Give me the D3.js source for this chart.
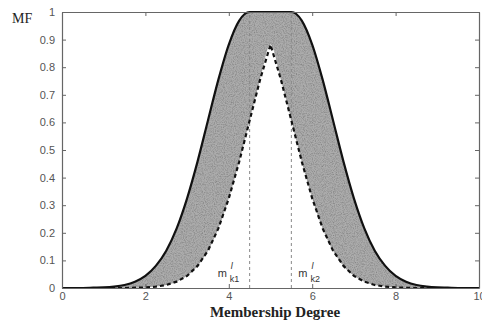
<!DOCTYPE html>
<html>
<head>
<meta charset="utf-8">
<script src="https://cdn.jsdelivr.net/npm/d3@7"></script>
<style>
  body { margin: 0; background: #fff; }
  svg { display: block; }
</style>
</head>
<body>
<div id="chart"></div>
<script>
var W = 482, H = 325;
var plotLeft = 62, plotRight = 479, plotTop = 12, plotBottom = 288;

// sample positions along the membership degree axis
var xs = [0, 0.25, 0.5, 0.75, 1, 1.25, 1.5, 1.75, 2, 2.25, 2.5, 2.75, 3, 3.25, 3.5, 3.75,
          4, 4.25, 4.5, 4.75, 5, 5.25, 5.5, 5.75, 6, 6.25, 6.5, 6.75, 7, 7.25, 7.5, 7.75,
          8, 8.25, 8.5, 8.75, 9, 9.25, 9.5, 9.75, 10];
// upper MF (solid line)
var upperMF = [0, 0, 0, 0.001, 0.002, 0.005, 0.011, 0.023, 0.044, 0.08, 0.135, 0.216, 0.325, 0.458, 0.607, 0.755,
               0.882, 0.969, 1, 1, 1, 1, 1, 0.969, 0.882, 0.755, 0.607, 0.458, 0.325, 0.216, 0.135, 0.08,
               0.044, 0.023, 0.011, 0.005, 0.002, 0.001, 0, 0, 0];
// lower MF (dashed line)
var lowerMF = [0, 0, 0, 0, 0, 0, 0, 0.001, 0.002, 0.005, 0.011, 0.023, 0.044, 0.08, 0.135, 0.216,
               0.325, 0.458, 0.607, 0.755, 0.882, 0.755, 0.607, 0.458, 0.325, 0.216, 0.135, 0.08, 0.044, 0.023, 0.011, 0.005,
               0.002, 0.001, 0, 0, 0, 0, 0, 0, 0];
var xTicks = [0, 2, 4, 6, 8, 10];
var yTicks = [0, 0.1, 0.2, 0.3, 0.4, 0.5, 0.6, 0.7, 0.8, 0.9, 1];
var meanLines = [4.5, 5.5];
var meanLabels = ["k1", "k2"];

var data = xs.map(function(x, i) { return {x: x, up: upperMF[i], lo: lowerMF[i]}; });

var svg = d3.select("#chart").append("svg")
    .attr("width", W).attr("height", H);

// speckled grey like the scanned original
var defs = svg.append("defs");
var f = defs.append("filter").attr("id", "speckle")
    .attr("x", 0).attr("y", 0).attr("width", 1).attr("height", 1);
f.append("feTurbulence").attr("type", "fractalNoise").attr("baseFrequency", 0.9)
    .attr("numOctaves", 2).attr("seed", 3).attr("result", "noise");
f.append("feColorMatrix").attr("in", "noise").attr("type", "matrix")
    .attr("values", "0 0 0 0 0  0 0 0 0 0  0 0 0 0 0  0 0 0 -0.9 0.55").attr("result", "dots");
f.append("feComposite").attr("in", "dots").attr("in2", "SourceGraphic").attr("operator", "in").attr("result", "dotsIn");
f.append("feMerge").selectAll("feMergeNode").data(["SourceGraphic", "dotsIn"]).enter()
    .append("feMergeNode").attr("in", function(d) { return d; });

var x = d3.scaleLinear().domain([0, 10]).range([plotLeft, plotRight]);
var y = d3.scaleLinear().domain([0, 1]).range([plotBottom, plotTop]);

// shaded footprint of uncertainty
svg.append("path")
    .datum(data)
    .attr("fill", "#acacac")
    .attr("filter", "url(#speckle)")
    .attr("d", d3.area()
        .x(function(d) { return x(d.x); })
        .y0(function(d) { return y(d.lo); })
        .y1(function(d) { return y(d.up); })
        .curve(d3.curveMonotoneX));

// vertical dashed lines at the two means
svg.selectAll(".mean")
    .data(meanLines)
    .enter().append("line")
    .attr("x1", function(d) { return x(d); })
    .attr("x2", function(d) { return x(d); })
    .attr("y1", y(0)).attr("y2", y(1))
    .attr("stroke", "#888")
    .attr("stroke-width", 1)
    .attr("stroke-dasharray", "3,3");

// upper MF
svg.append("path")
    .datum(data)
    .attr("fill", "none")
    .attr("stroke", "#111")
    .attr("stroke-width", 2.2)
    .attr("d", d3.line()
        .x(function(d) { return x(d.x); })
        .y(function(d) { return y(d.up); })
        .curve(d3.curveMonotoneX));

// lower MF
svg.append("path")
    .datum(data)
    .attr("fill", "none")
    .attr("stroke", "#111")
    .attr("stroke-width", 2.2)
    .attr("stroke-dasharray", "4,3")
    .attr("d", d3.line()
        .x(function(d) { return x(d.x); })
        .y(function(d) { return y(d.lo); }));

// box + inward ticks
var axisColor = "#666";
svg.append("g")
    .attr("transform", "translate(0," + plotBottom + ")")
    .call(d3.axisBottom(x).tickValues(xTicks).tickSizeInner(-4).tickSizeOuter(0).tickPadding(4)
        .tickFormat(d3.format("d")));
svg.append("g")
    .attr("transform", "translate(0," + plotTop + ")")
    .call(d3.axisTop(x).tickValues(xTicks).tickSizeInner(-4).tickSizeOuter(0).tickFormat(""));
svg.append("g")
    .attr("transform", "translate(" + plotLeft + ",0)")
    .call(d3.axisLeft(y).tickValues(yTicks).tickSizeInner(-4).tickSizeOuter(0).tickPadding(7)
        .tickFormat(function(d) { return d === 0 || d === 1 ? d3.format("d")(d) : d3.format(".1f")(d); }));
svg.append("g")
    .attr("transform", "translate(" + plotRight + ",0)")
    .call(d3.axisRight(y).tickValues(yTicks).tickSizeInner(-4).tickSizeOuter(0).tickFormat(""));

svg.selectAll(".domain").attr("stroke", axisColor).attr("stroke-width", 1.2);
svg.selectAll(".tick line").attr("stroke", axisColor);
svg.selectAll(".tick text")
    .attr("fill", "#555")
    .style("font-family", "Liberation Sans, Arial, sans-serif")
    .style("font-size", "11px");

// mean labels: left one sits left of its line, right one right of its line
var labelX = [x(meanLines[0]) - 32, x(meanLines[1]) + 7];
meanLabels.forEach(function(k, i) {
    var t = svg.append("text")
        .attr("x", labelX[i])
        .attr("y", plotBottom - 11)
        .attr("fill", "#333")
        .style("font-family", "Liberation Sans, Arial, sans-serif")
        .style("font-size", "11px");
    t.append("tspan").text("m");
    t.append("tspan").attr("dx", 4).attr("dy", -8).style("font-size", "9px").style("font-style", "italic").text("l");
    t.append("tspan").attr("dx", -3).attr("dy", 13).style("font-size", "9px").text(k);
});

// axis titles
svg.append("text")
    .attr("x", 12).attr("y", 23)
    .style("font-family", "Liberation Serif, Times New Roman, serif")
    .style("font-size", "14px")
    .attr("fill", "#222")
    .text("MF");

svg.append("text")
    .attr("x", 275).attr("y", 317)
    .attr("text-anchor", "middle")
    .style("font-family", "Liberation Serif, Times New Roman, serif")
    .style("font-size", "15px")
    .style("font-weight", "bold")
    .attr("fill", "#222")
    .text("Membership Degree");
</script>
</body>
</html>
